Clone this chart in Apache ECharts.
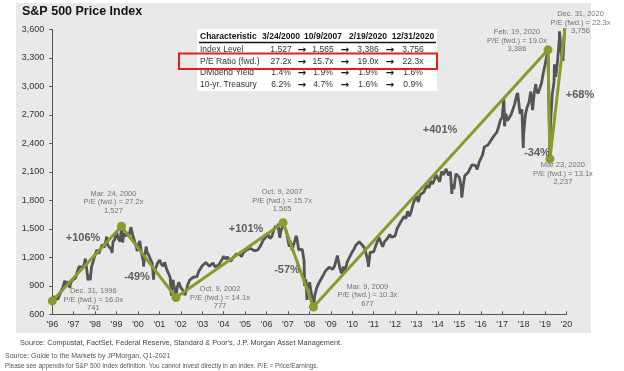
<!DOCTYPE html>
<html><head><meta charset="utf-8">
<script src="https://cdn.jsdelivr.net/npm/echarts@6/dist/echarts.min.js"></script>
<style>html,body{margin:0;padding:0;background:#fff}#c{width:624px;height:371px}</style>
</head><body><div id="c"></div>
<script>
// ---------------- data ----------------
const titleText = 'S&P 500 Price Index';
const yearLabels = ["'96","'97","'98","'99","'00","'01","'02","'03","'04","'05","'06","'07","'08",
  "'09","'10","'11","'12","'13","'14","'15","'16","'17","'18","'19","'20"];
const yMin = 600, yMax = 3600, yStep = 300;

// S&P 500 month-end closes, first value = Dec 1996
const monthlyClose = [
  740.74,
  786.16, 790.82, 757.12, 801.34, 848.28, 885.14, 954.31, 899.47, 947.28, 914.62, 955.40, 970.43,
  980.28, 1049.34, 1101.75, 1111.75, 1090.82, 1133.84, 1120.67, 957.28, 1017.01, 1098.67, 1163.63, 1229.23,
  1279.64, 1238.33, 1286.37, 1335.18, 1301.84, 1372.71, 1328.72, 1320.41, 1282.71, 1362.93, 1388.91, 1469.25,
  1394.46, 1366.42, 1498.58, 1452.43, 1420.60, 1454.60, 1430.83, 1517.68, 1436.51, 1429.40, 1314.95, 1320.28,
  1366.01, 1239.94, 1160.33, 1249.46, 1255.82, 1224.42, 1211.23, 1133.58, 1040.94, 1059.78, 1139.45, 1148.08,
  1130.20, 1106.73, 1147.39, 1076.92, 1067.14, 989.82, 911.62, 916.07, 815.28, 885.76, 936.31, 879.82,
  855.70, 841.15, 848.18, 916.92, 963.59, 974.50, 990.31, 1008.01, 995.97, 1050.71, 1058.20, 1111.92,
  1131.13, 1144.94, 1126.21, 1107.30, 1120.68, 1140.84, 1101.72, 1104.24, 1114.58, 1130.20, 1173.82, 1211.92,
  1181.27, 1203.60, 1180.59, 1156.85, 1191.50, 1191.33, 1234.18, 1220.33, 1228.81, 1207.01, 1249.48, 1248.29,
  1280.08, 1280.66, 1294.83, 1310.61, 1270.09, 1270.20, 1276.66, 1303.82, 1335.85, 1377.94, 1400.63, 1418.30,
  1438.24, 1406.82, 1420.86, 1482.37, 1530.62, 1503.35, 1455.27, 1473.99, 1526.75, 1549.38, 1481.14, 1468.36,
  1378.55, 1330.63, 1322.70, 1385.59, 1400.38, 1280.00, 1267.38, 1282.83, 1166.36, 968.75, 896.24, 903.25,
  825.88, 735.09, 797.87, 872.81, 919.14, 919.32, 987.48, 1020.62, 1057.08, 1036.19, 1095.63, 1115.10,
  1073.87, 1104.49, 1169.43, 1186.69, 1089.41, 1030.71, 1101.60, 1049.33, 1141.20, 1183.26, 1180.55, 1257.64,
  1286.12, 1327.22, 1325.83, 1363.61, 1345.20, 1320.64, 1292.28, 1218.89, 1131.42, 1253.30, 1246.96, 1257.60,
  1312.41, 1365.68, 1408.47, 1397.91, 1310.33, 1362.16, 1379.32, 1406.58, 1440.67, 1412.16, 1416.18, 1426.19,
  1498.11, 1514.68, 1569.19, 1597.57, 1630.74, 1606.28, 1685.73, 1632.97, 1681.55, 1756.54, 1805.81, 1848.36,
  1782.59, 1859.45, 1872.34, 1883.95, 1923.57, 1960.23, 1930.67, 2003.37, 1972.29, 2018.05, 2067.56, 2058.90,
  1994.99, 2104.50, 2067.89, 2085.51, 2107.39, 2063.11, 2103.84, 1972.18, 1920.03, 2079.36, 2080.41, 2043.94,
  1940.24, 1932.23, 2059.74, 2065.30, 2096.95, 2098.86, 2173.60, 2170.95, 2168.27, 2126.15, 2198.81, 2238.83,
  2278.87, 2363.64, 2362.72, 2384.20, 2411.80, 2423.41, 2470.30, 2471.65, 2519.36, 2575.26, 2647.58, 2673.61,
  2823.81, 2713.83, 2640.87, 2648.05, 2705.27, 2718.37, 2816.29, 2901.52, 2913.98, 2711.74, 2760.17, 2506.85,
  2704.10, 2784.49, 2834.40, 2945.83, 2752.06, 2941.76, 2980.38, 2926.46, 2976.74, 3037.56, 3140.98, 3230.78,
  3225.52, 2954.22, 2584.59, 2912.43, 3044.31, 3100.29, 3271.12, 3500.31, 3363.00, 3269.96, 3621.63, 3756.07
];
// intra-month highs / lows visible in the daily line
const extremeDates = ['1997-04-11','1997-08-06','1997-10-27','1998-07-17','1998-10-08','1999-07-16','1999-10-15',
  '2000-03-24','2000-04-14','2000-09-01','2000-12-20','2001-01-30','2001-04-04','2001-05-21','2001-09-21',
  '2002-01-04','2002-07-23','2002-08-22','2002-10-09','2002-11-27','2003-03-11','2007-02-27','2007-07-19',
  '2007-08-15','2007-10-09','2008-01-22','2008-03-10','2008-05-19','2008-10-10','2008-11-20','2009-01-06',
  '2009-03-09','2010-04-23','2010-07-02','2011-04-29','2011-10-03','2015-05-21','2015-08-25','2016-02-11',
  '2018-01-26','2018-02-08','2018-09-20','2018-12-24','2019-06-03','2019-07-26','2020-02-19','2020-03-23',
  '2020-06-08','2020-09-02'];
const extremeValues = [737.65, 960.32, 876.99, 1186.75, 959.44, 1418.78, 1247.41,
  1527.46, 1356.56, 1520.77, 1264.74, 1373.73, 1103.25, 1312.83, 965.80,
  1172.51, 797.70, 962.70, 776.76, 938.87, 800.73, 1399.04, 1553.08,
  1406.70, 1565.15, 1310.50, 1273.37, 1426.63, 899.22, 752.44, 934.70,
  676.53, 1217.28, 1022.58, 1363.61, 1099.23, 2130.82, 1867.61, 1829.08,
  2872.87, 2581.00, 2930.75, 2351.10, 2744.45, 3025.86, 3386.15, 2237.40,
  3232.39, 3580.84];

// bull / bear pivots
const pivotDates = ['1996-12-31','2000-03-24','2002-10-09','2007-10-09','2009-03-09','2020-02-19','2020-03-23','2020-12-31'];
const pivotValues = [741, 1527, 777, 1565, 677, 3386, 2237, 3756];
const pivotNotes = [
  'Dec. 31, 1996\nP/E (fwd.) = 16.0x\n741',
  'Mar. 24, 2000\nP/E (fwd.) = 27.2x\n1,527',
  'Oct. 9, 2002\nP/E (fwd.) = 14.1x\n777',
  'Oct. 9, 2007\nP/E (fwd.) = 15.7x\n1,565',
  'Mar. 9, 2009\nP/E (fwd.) = 10.3x\n677',
  'Feb. 19, 2020\nP/E (fwd.) = 19.0x\n3,386',
  'Mar 23, 2020\nP/E (fwd.) = 13.1x\n2,237',
  'Dec. 31, 2020\nP/E (fwd.) = 22.3x\n3,756'
];
const swingLabels = ['+106%', '-49%', '+101%', '-57%', '+401%', '-34%', '+68%'];

const tableHeader = ['Characteristic', '3/24/2000', '10/9/2007', '2/19/2020', '12/31/2020'];
const tableRowLabels = ['Index Level', 'P/E Ratio (fwd.)', 'Dividend Yield', '10-yr. Treasury'];
const tableValues = [
  ['1,527', '1,565', '3,386', '3,756'],
  ['27.2x', '15.7x', '19.0x', '22.3x'],
  ['1.4%', '1.9%', '1.9%', '1.6%'],
  ['6.2%', '4.7%', '1.6%', '0.9%']
];
const footerLines = [
  "Source: Compustat, FactSet, Federal Reserve, Standard & Poor's, J.P. Morgan Asset Management.",
  'Source: Guide to the Markets by JPMorgan, Q1-2021',
  'Please see appendix for S&P 500 Index definition. You cannot invest directly in an index. P/E = Price/Earnings.'
];

// ---------------- helpers ----------------
function decYear(s) { // end-of-day decimal year, so Dec 31, 1996 -> 1997.0
  const [y, m, d] = s.split('-').map(Number);
  const t = Date.UTC(y, m - 1, d + 1), a = Date.UTC(y, 0, 1), b = Date.UTC(y + 1, 0, 1);
  return y + (t - a) / (b - a);
}
const priceData = monthlyClose.map((v, i) => [1997 + i / 12, v])
  .concat(extremeDates.map((d, i) => [decYear(d), extremeValues[i]]))
  .sort((p, q) => p[0] - q[0]);
const pivotData = pivotDates.map((d, i) => [decYear(d), pivotValues[i]]);

// ---------------- style / layout ----------------
const FONT = '"Liberation Sans", Arial, sans-serif';
const OLIVE = '#8a9a2e';
const noteOffsets = [[41, -1], [-8, -24], [44, 0], [-1, -22], [54, -12], [-31, -9], [13, 15], [14, 8]];
const swingPos = [[83, 238], [137, 277], [246, 229], [287, 270], [440, 130], [537, 153], [580, 95]];
const colX = [281, 323, 368, 413];
const arrowX = [302, 345, 390];
const rowY = [49.5, 61.5, 73, 84.5];

const graphics = [];
graphics.push({ type: 'rect', z: -10, shape: { x: 16, y: 3, width: 575, height: 330 }, style: { fill: '#e9e9e9' } });
graphics.push({ type: 'text', z: 50, x: 22, y: 12, style: { text: titleText, font: 'bold 12.5px ' + FONT, fill: '#111', verticalAlign: 'middle' } });
// table
graphics.push({ type: 'rect', z: 50, shape: { x: 197, y: 29, width: 240, height: 62 }, style: { fill: '#ffffff' } });
graphics.push({ type: 'line', z: 51, shape: { x1: 199, y1: 42.5, x2: 436, y2: 42.5 }, style: { stroke: '#111', lineWidth: 1.5 } });
tableHeader.forEach((h, i) => {
  graphics.push({ type: 'text', z: 52, x: i === 0 ? 200 : colX[i - 1], y: 36.5,
    style: { text: h, font: 'bold 8.5px ' + FONT, fill: '#111', align: i === 0 ? 'left' : 'center', verticalAlign: 'middle' } });
});
tableRowLabels.forEach((r, ri) => {
  graphics.push({ type: 'text', z: 52, x: 200, y: rowY[ri],
    style: { text: r, font: '8.5px ' + FONT, fill: '#333', align: 'left', verticalAlign: 'middle' } });
  tableValues[ri].forEach((v, ci) => {
    graphics.push({ type: 'text', z: 52, x: colX[ci], y: rowY[ri],
      style: { text: v, font: '8.5px ' + FONT, fill: '#333', align: 'center', verticalAlign: 'middle' } });
  });
  arrowX.forEach(ax => {
    graphics.push({ type: 'text', z: 52, x: ax, y: rowY[ri] + 0.5,
      style: { text: '\u2192', font: 'bold 10px "DejaVu Sans", sans-serif', fill: '#111', align: 'center', verticalAlign: 'middle' } });
  });
});
graphics.push({ type: 'rect', z: 53, shape: { x: 179, y: 53.5, width: 258, height: 15.5 }, style: { fill: 'none', stroke: '#e0201e', lineWidth: 2 } });
// swing percentages
swingLabels.forEach((t, i) => {
  graphics.push({ type: 'text', z: 40, x: swingPos[i][0], y: swingPos[i][1],
    style: { text: t, font: 'bold 11px ' + FONT, fill: '#5e5e5e', align: 'center', verticalAlign: 'middle' } });
});
// footer
graphics.push({ type: 'text', z: 50, x: 20, y: 343, style: { text: footerLines[0], font: '7.3px ' + FONT, fill: '#444', verticalAlign: 'middle' } });
graphics.push({ type: 'text', z: 50, x: 5, y: 356, style: { text: footerLines[1], font: '7px ' + FONT, fill: '#555', verticalAlign: 'middle' } });
graphics.push({ type: 'text', z: 50, x: 5, y: 366.5, style: { text: footerLines[2], font: '6.4px ' + FONT, fill: '#555', verticalAlign: 'middle' } });

const chart = echarts.init(document.getElementById('c'), null, { renderer: 'canvas' });
chart.setOption({
  backgroundColor: '#ffffff',
  animation: false,
  textStyle: { fontFamily: FONT },
  grid: { left: 52.3, right: 57.5, top: 29.5, bottom: 56.7, containLabel: false },
  xAxis: {
    type: 'value', min: 1997, max: 2021, interval: 1,
    axisLine: { show: true, lineStyle: { color: '#555', width: 1 } },
    axisTick: { show: true, inside: true, length: 3, lineStyle: { color: '#555' } },
    axisLabel: { margin: 6, fontSize: 9, color: '#333', formatter: v => yearLabels[Math.round(v - 1997)] || '' },
    splitLine: { show: false }
  },
  yAxis: {
    type: 'value', min: yMin, max: yMax, interval: yStep,
    axisLine: { show: true, lineStyle: { color: '#555', width: 1 } },
    axisTick: { show: true, inside: false, length: 3, lineStyle: { color: '#555' } },
    axisLabel: { margin: 8, fontSize: 9, color: '#333', formatter: v => v.toLocaleString('en-US') },
    splitLine: { show: false }
  },
  series: [
    { name: 'S&P 500', type: 'line', data: priceData, showSymbol: false, z: 2,
      lineStyle: { color: '#555555', width: 2.8 }, clip: true },
    { name: 'Trend', type: 'line', data: pivotData, z: 3, clip: true,
      symbol: 'circle', symbolSize: 9, showSymbol: true, showAllSymbol: true,
      itemStyle: { color: OLIVE }, lineStyle: { color: OLIVE, width: 3 } },
    { name: 'Notes', type: 'scatter', z: 4, clip: false, symbolSize: 1,
      itemStyle: { color: 'rgba(0,0,0,0)' },
      data: pivotData.map((p, i) => ({ value: p, label: { offset: noteOffsets[i] } })),
      label: { show: true, position: 'inside', formatter: p => pivotNotes[p.dataIndex],
        fontSize: 7.5, lineHeight: 8.5, color: '#555', align: 'center', verticalAlign: 'middle', fontFamily: FONT } }
  ],
  graphic: graphics
});
</script></body></html>
